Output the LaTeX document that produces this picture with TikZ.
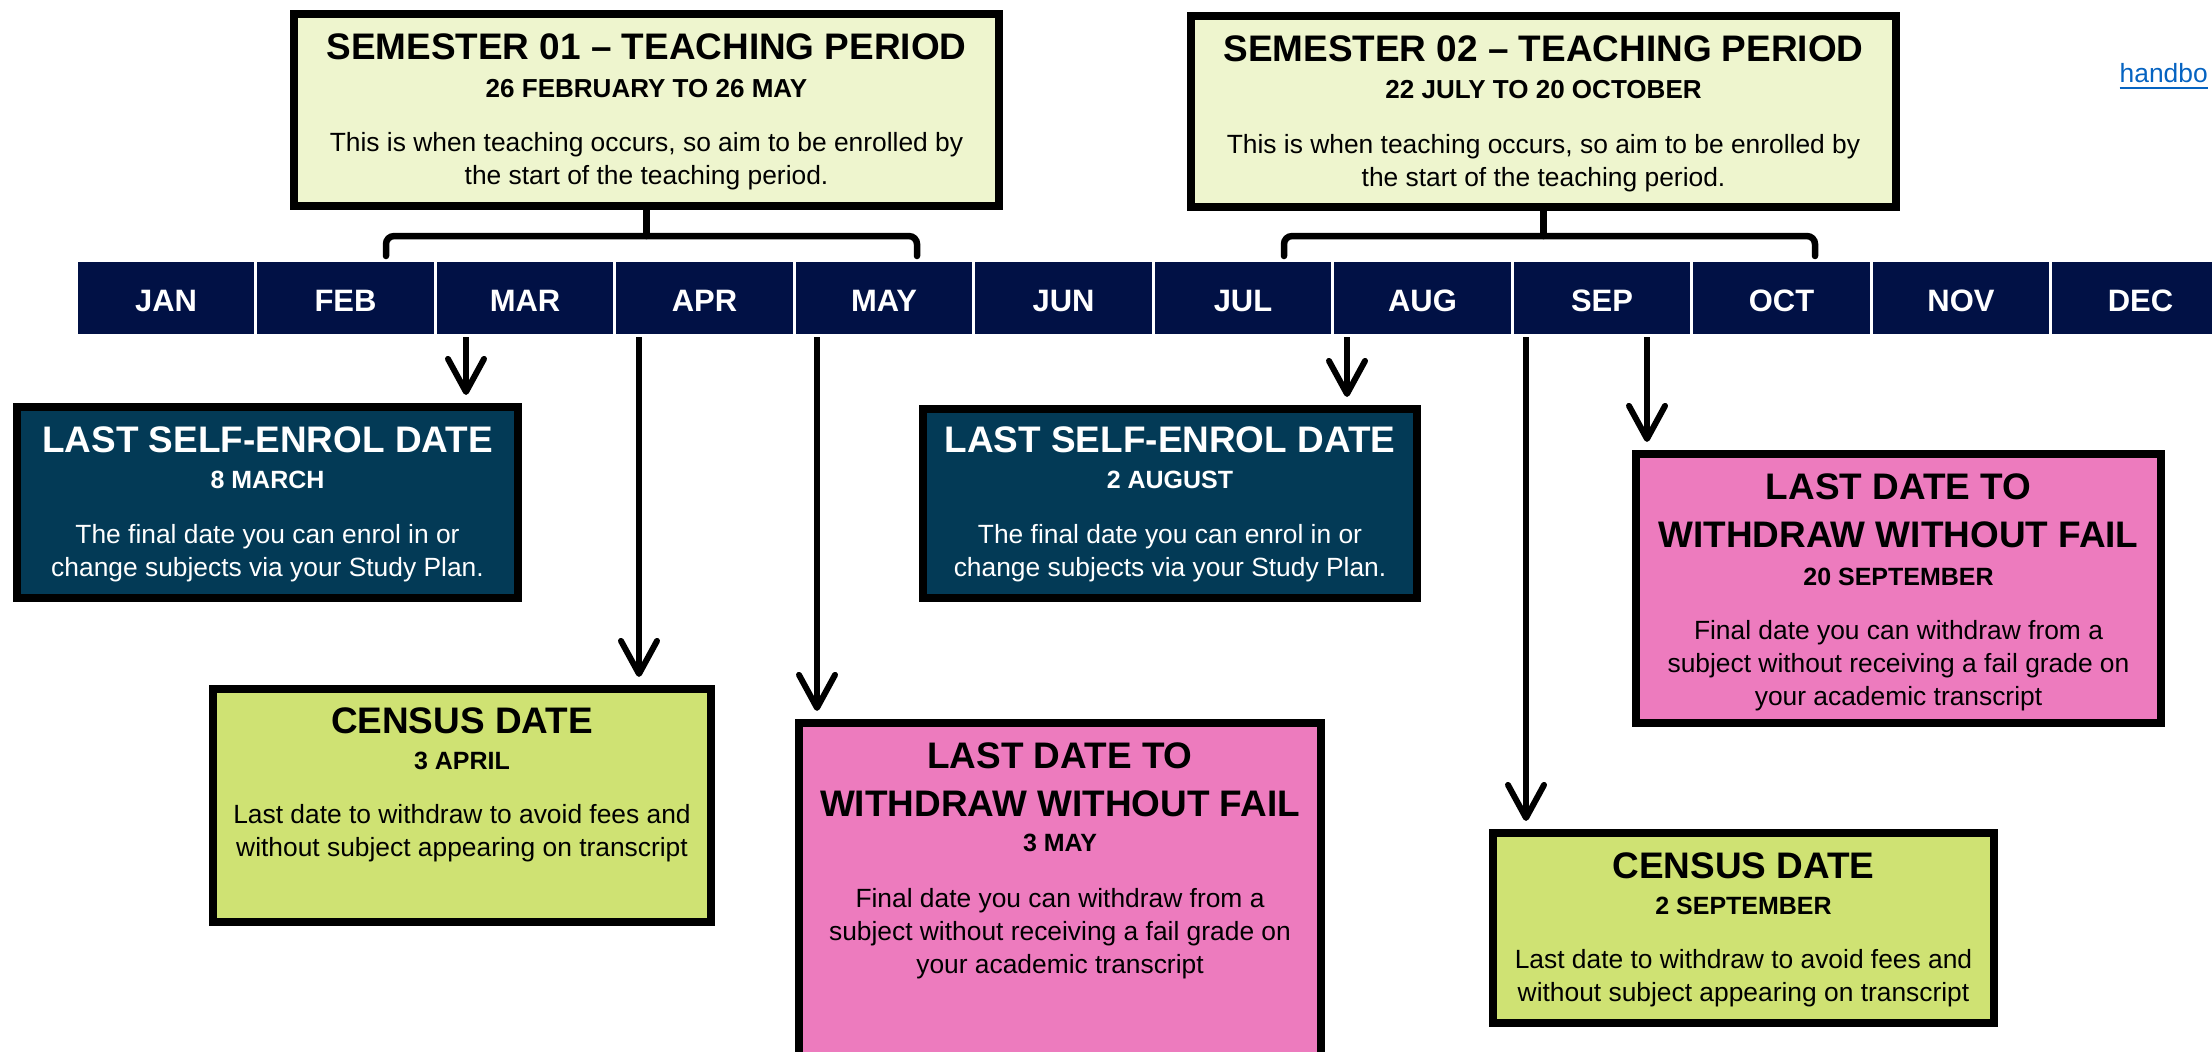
\documentclass[tikz,border=0pt]{standalone}
\usepackage{fontspec}
\setmainfont{Liberation Sans}
\usepackage{xcolor}
\usepackage{tikz}
\usetikzlibrary{arrows.meta,calc}
\definecolor{monthnavy}{RGB}{1, 17, 69}
\definecolor{enrolteal}{RGB}{3, 58, 86}
\definecolor{censusgreen}{RGB}{207, 226, 115}
\definecolor{withdrawpink}{RGB}{237, 123, 190}
\definecolor{semcream}{RGB}{238, 245, 206}
\definecolor{linkblue}{RGB}{5, 99, 193}
\tikzset{
    month cell/.style={rectangle, draw=white, line width=0.03cm, fill=monthnavy, text=white, minimum width=1.795cm, minimum height=0.75cm, inner sep=0pt, text height=0.27cm, text depth=0pt, font=\fontsize{8.8}{10}\selectfont\bfseries},
    date box/.style={rectangle, draw=black, line width=0.08cm, inner sep=0pt},
    semester box/.style={date box, fill=semcream},
    enrol box/.style={date box, fill=enrolteal},
    census box/.style={date box, fill=censusgreen},
    withdraw box/.style={date box, fill=withdrawpink},
    box title/.style={font=\fontsize{10.5}{13.7}\selectfont\bfseries, align=center, inner sep=0pt},
    box date/.style={font=\fontsize{7.1}{8.5}\selectfont\bfseries, inner sep=0pt},
    box body/.style={font=\fontsize{7.5}{9.4}\selectfont, align=center, inner sep=0pt},
    date arrow/.style={-{Straight Barb[length=0.33cm, width=0.36cm, round]}, line width=0.06cm, shorten >=0.08cm},
    bracket line/.style={line width=0.065cm, rounded corners=0.08cm, line cap=round},
    link text/.style={font=\fontsize{7.5}{9}\selectfont, text=linkblue, inner sep=0pt}
}
\begin{document}
\begin{tikzpicture}[x=0.01cm, y=0.01cm]
    \useasboundingbox (0,0) rectangle (2212,-1051);
    \clip (0,0) rectangle (2212,-1051);

    % Month bar
    \foreach \mon [count=\i] in {JAN,FEB,MAR,APR,MAY,JUN,JUL,AUG,SEP,OCT,NOV,DEC}
        \node[month cell] (m\i) at ({166+179.5*(\i-1)},-298) {\mon};

    % Teaching periods
    \node[semester box, minimum width=7.05cm, minimum height=1.92cm] (sem1) at (646.5,-110) {};
    \node[box title] (sem1-title) at (646.5,-47) {SEMESTER 01 \textendash{} TEACHING PERIOD};
    \node[box date, font=\fontsize{7.4}{9}\selectfont\bfseries] (sem1-date) at (646.5,-89) {26 FEBRUARY TO 26 MAY};
    \node[box body] (sem1-text) at (646.5,-161) {This is when teaching occurs, so aim to be enrolled by\\the start of the teaching period.};

    \node[semester box, minimum width=7.05cm, minimum height=1.91cm] (sem2) at (1543.5,-111.5) {};
    \node[box title] (sem2-title) at (1543.5,-48.5) {SEMESTER 02 \textendash{} TEACHING PERIOD};
    \node[box date, font=\fontsize{7.4}{9}\selectfont\bfseries] (sem2-date) at (1543.5,-90) {22 JULY TO 20 OCTOBER};
    \node[box body] (sem2-text) at (1543.5,-163) {This is when teaching occurs, so aim to be enrolled by\\the start of the teaching period.};

    % Brackets over the months
    \coordinate (feb26) at (386,-256);
    \coordinate (may26) at (917,-256);
    \coordinate (jul22) at (1284,-256);
    \coordinate (oct20) at (1815,-256);
    \coordinate (sem1-mid) at ($(sem1.south)+(0,-26)$);
    \coordinate (sem2-mid) at ($(sem2.south)+(0,-25)$);
    \draw[bracket line] (feb26) |- (sem1-mid) -| (may26);
    \draw[bracket line] (sem1.south) -- (sem1-mid);
    \draw[bracket line] (jul22) |- (sem2-mid) -| (oct20);
    \draw[bracket line] (sem2.south) -- (sem2-mid);

    % Semester 01 dates
    \node[enrol box, minimum width=5.01cm, minimum height=1.91cm] (enrol1) at (267.5,-502.5) {};
    \node[box title, text=white] (enrol1-title) at (267.5,-440) {LAST SELF-ENROL DATE};
    \node[box date, text=white] (enrol1-date) at (267.5,-480) {8 MARCH};
    \node[box body, text=white] (enrol1-text) at (267.5,-553.5) {The final date you can enrol in or\\change subjects via your Study Plan.};

    \node[census box, minimum width=4.98cm, minimum height=2.33cm] (census1) at (462,-805.5) {};
    \node[box title] (census1-title) at (462,-721) {CENSUS DATE};
    \node[box date] (census1-date) at (462,-761) {3 APRIL};
    \node[box body] (census1-text) at (462,-833.5) {Last date to withdraw to avoid fees and\\without subject appearing on transcript};

    \node[withdraw box, minimum width=5.22cm, minimum height=3.53cm] (withdraw1) at (1060,-899.5) {};
    \node[box title] (withdraw1-title) at (1060,-780) {LAST DATE TO\\WITHDRAW WITHOUT FAIL};
    \node[box date] (withdraw1-date) at (1060,-843) {3 MAY};
    \node[box body] (withdraw1-text) at (1060,-934) {Final date you can withdraw from a\\subject without receiving a fail grade on\\your academic transcript};

    % Semester 02 dates
    \node[enrol box, minimum width=4.94cm, minimum height=1.89cm] (enrol2) at (1170,-503.5) {};
    \node[box title, text=white] (enrol2-title) at (1170,-440) {LAST SELF-ENROL DATE};
    \node[box date, text=white] (enrol2-date) at (1170,-480) {2 AUGUST};
    \node[box body, text=white] (enrol2-text) at (1170,-553.5) {The final date you can enrol in or\\change subjects via your Study Plan.};

    \node[census box, minimum width=5.01cm, minimum height=1.90cm] (census2) at (1743.5,-928) {};
    \node[box title] (census2-title) at (1743.5,-866) {CENSUS DATE};
    \node[box date] (census2-date) at (1743.5,-906) {2 SEPTEMBER};
    \node[box body] (census2-text) at (1743.5,-978.5) {Last date to withdraw to avoid fees and\\without subject appearing on transcript};

    \node[withdraw box, minimum width=5.25cm, minimum height=2.69cm] (withdraw2) at (1898.5,-588.5) {};
    \node[box title] (withdraw2-title) at (1898.5,-511) {LAST DATE TO\\WITHDRAW WITHOUT FAIL};
    \node[box date] (withdraw2-date) at (1898.5,-577) {20 SEPTEMBER};
    \node[box body] (withdraw2-text) at (1898.5,-665.5) {Final date you can withdraw from a\\subject without receiving a fail grade on\\your academic transcript};

    % Arrows from the months
    \coordinate (mar8) at (466,-337);
    \coordinate (apr3) at (639,-337);
    \coordinate (may3) at (817,-337);
    \coordinate (aug2) at (1347,-337);
    \coordinate (sep2) at (1526,-337);
    \coordinate (sep20) at (1647,-337);
    \draw[date arrow] (mar8) -- (mar8 |- enrol1.north);
    \draw[date arrow] (apr3) -- (apr3 |- census1.north);
    \draw[date arrow] (may3) -- (may3 |- withdraw1.north);
    \draw[date arrow] (aug2) -- (aug2 |- enrol2.north);
    \draw[date arrow] (sep2) -- (sep2 |- census2.north);
    \draw[date arrow] (sep20) -- (sep20 |- withdraw2.north);

    % Link
    \node[link text, anchor=west] (handbook) at (2119,-77) {\underline{handbo}};
\end{tikzpicture}
\end{document}
